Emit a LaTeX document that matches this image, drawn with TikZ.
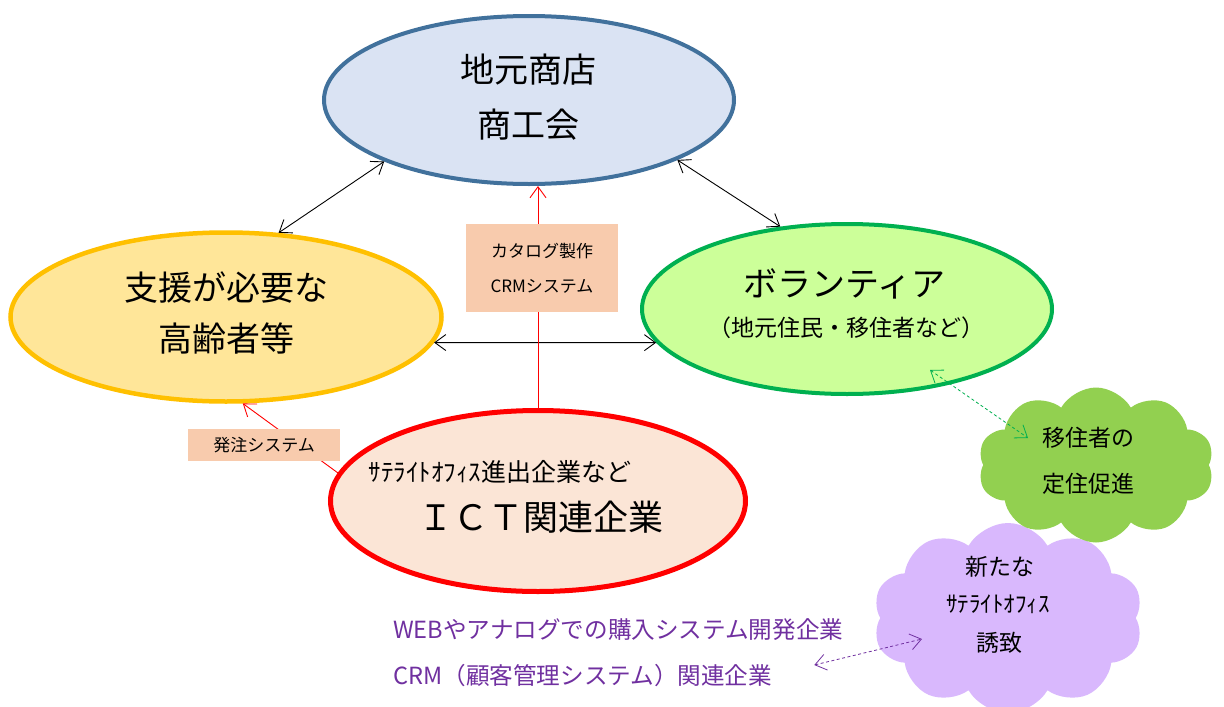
\documentclass[tikz,border=0pt]{standalone}
\usepackage{fontspec}
\setmainfont{Noto Sans CJK JP}
\usetikzlibrary{shapes.geometric,shapes.symbols,arrows.meta,calc}
\definecolor{topfill}{HTML}{DAE3F3}
\definecolor{topdraw}{HTML}{41719C}
\definecolor{yelfill}{HTML}{FFE699}
\definecolor{yeldraw}{HTML}{FFC000}
\definecolor{grnfill}{HTML}{CCFF99}
\definecolor{grndraw}{HTML}{00B050}
\definecolor{redfill}{HTML}{FBE5D6}
\definecolor{boxfill}{HTML}{F8CBAD}
\definecolor{cloudgreen}{HTML}{92D050}
\definecolor{cloudpurple}{HTML}{D9B8FD}
\definecolor{purpletext}{HTML}{7030A0}
\begin{document}
\begin{tikzpicture}[x=1pt,y=-1pt,
  oval/.style={ellipse,inner sep=0pt},
  barb/.style={line width=0.9pt,{Straight Barb[length=11pt,width=16pt]}-{Straight Barb[length=11pt,width=16pt]}},
  onebarb/.style={line width=0.9pt,-{Straight Barb[length=11pt,width=16pt]}},
  lbl/.style={fill=boxfill,inner sep=0pt,minimum width=152pt,align=center},
  puff/.style={cloud,cloud puffs=10,cloud puff arc=120,cloud ignores aspect,inner sep=0pt},
  big/.style={font=\fontsize{34pt}{55pt}\selectfont,align=center,inner sep=0pt},
  mid/.style={font=\fontsize{23pt}{28pt}\selectfont,inner sep=0pt},
  small/.style={font=\fontsize{17pt}{35pt}\selectfont}]
\useasboundingbox (0,0) rectangle (1224,707);
\clip (0,0) rectangle (1224,707);
\fill[white] (0,0) rectangle (1224,707);

% ellipses
\node[oval,fill=topfill,draw=topdraw,line width=4pt,minimum width=410pt,minimum height=168pt] (top) at (529,100) {};
\node[oval,fill=yelfill,draw=yeldraw,line width=4.5pt,minimum width=431pt,minimum height=169pt] (yel) at (226,317) {};
\node[oval,fill=grnfill,draw=grndraw,line width=4pt,minimum width=410pt,minimum height=170pt] (grn) at (847,309) {};
\node[oval,fill=redfill,draw=red,line width=5pt,minimum width=415pt,minimum height=181pt] (ict) at (538,501) {};

% clouds
\node[puff,fill=cloudpurple,minimum width=270pt,minimum height=190pt] (pcl) at (1008,618) {};
\node[puff,fill=cloudgreen,minimum width=236pt,minimum height=155pt] (gcl) at (1096,465) {};

% texts
\node[big] (toptxt) at (528,97.5) {地元商店\\商工会};
\node[big,font=\fontsize{34pt}{51pt}\selectfont] (yeltxt) at (226,312.5) {支援が必要な\\高齢者等};
\node[big] (grntxt) at (844,284) {ボランティア};
\node[inner sep=0pt,font=\fontsize{23pt}{27pt}\selectfont] (grnsub) at (846,328) {（地元住民・移住者など）};
\node[inner sep=0pt,font=\fontsize{25pt}{30pt}\selectfont] (ictsub) at (500,472) {ｻﾃﾗｲﾄｵﾌｨｽ進出企業など};
\node[big,font=\fontsize{35pt}{40pt}\selectfont] (icttxt) at (541,517) {ＩＣＴ関連企業};

\node[mid] (g1) at (1088,438) {移住者の};
\node[mid] (g2) at (1088,484) {定住促進};
\node[mid] (p1) at (1000,567) {新たな};
\node[mid] (p2) at (998,604) {ｻﾃﾗｲﾄｵﾌｨｽ};
\node[mid] (p3) at (999,643) {誘致};

\node[mid,font=\fontsize{23.6pt}{28pt}\selectfont,anchor=west,text=purpletext] (w1) at (393,630) {WEBやアナログでの購入システム開発企業};
\node[mid,font=\fontsize{23.6pt}{28pt}\selectfont,anchor=west,text=purpletext] (w2) at (393,676) {CRM（顧客管理システム）関連企業};

% connectors
\draw[barb] (yel.58) -- (top.203);
\draw[barb] (top.338) -- (grn.129);
\draw[barb] (yel.353) -- (grn.190);
\draw[onebarb,red] (ict.172) -- (yel.281);
\draw[onebarb,red] (ict.north) -- (ict.north |- top.south);

\coordinate (gtip) at ($(grn.center)+(83,61)$);
\coordinate (gctip) at ($(gcl.center)+(-68,-27)$);
\draw[barb,grndraw,line width=0.8pt,dash pattern=on 3pt off 2.5pt] (gtip) -- (gctip);
\coordinate (ptip) at ($(w2.east)+(42,-11)$);
\coordinate (pctip) at ($(pcl.center)+(-86,21)$);
\draw[barb,purpletext,line width=0.8pt,dash pattern=on 3pt off 2.5pt] (ptip) -- (pctip);

% label boxes
\node[lbl,minimum height=88pt,small] (lb1) at (542,268) {カタログ製作\\CRMシステム};
\node[lbl,minimum height=32pt,small] (lb2) at (264,445) {発注システム};
\end{tikzpicture}
\end{document}
